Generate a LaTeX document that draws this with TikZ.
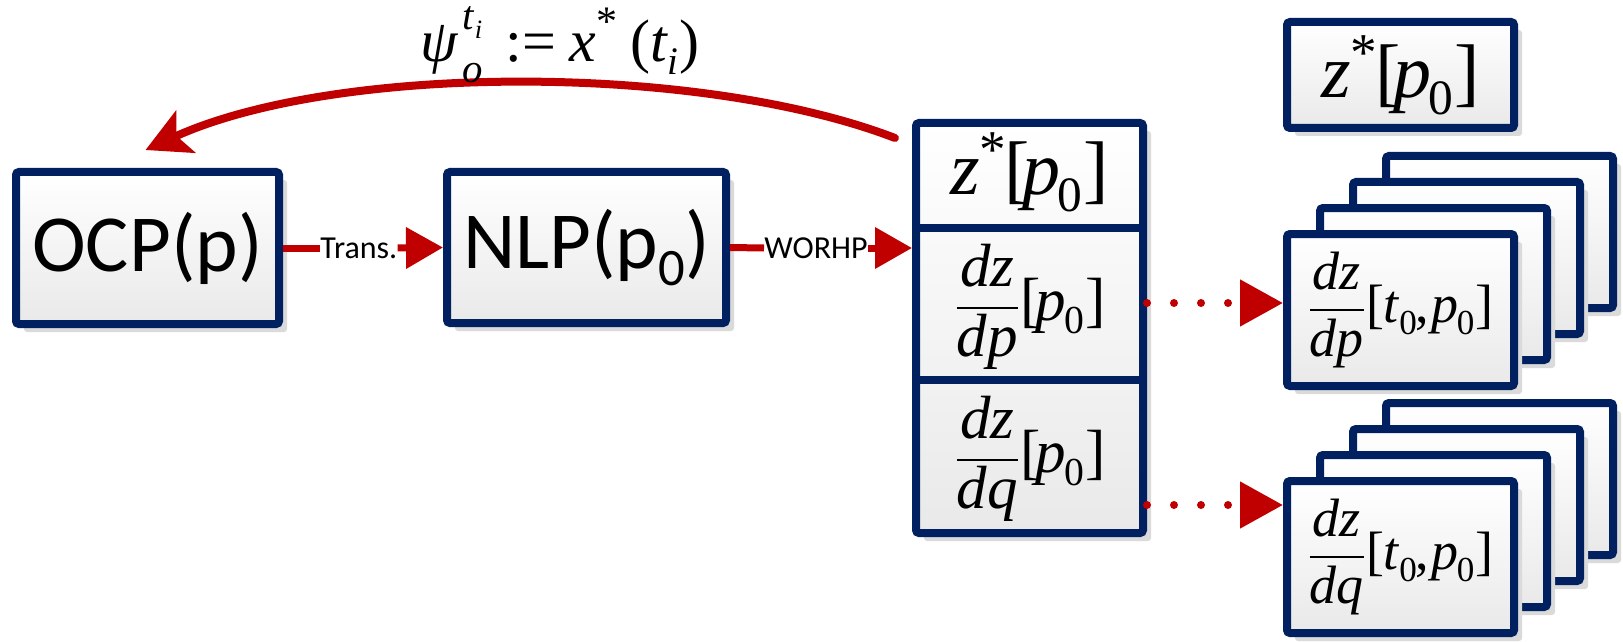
\documentclass[tikz,border=0pt]{standalone}
\usepackage{fontspec}
\usepackage{amsmath}
\usepackage{graphicx}
\setmainfont{Liberation Serif}
\newfontfamily\calib{Carlito}
\usetikzlibrary{arrows.meta,shadows,calc}
\definecolor{navy}{HTML}{002060}
\definecolor{dred}{HTML}{C00000}
\definecolor{boxbot}{HTML}{E9E9E9}
\definecolor{shadowgray}{HTML}{DADADA}
\newcommand\lsub[1]{\raisebox{-0.22em}{\scalebox{0.65}{#1}}}
\newcommand\zsp{\textit{z}\raisebox{0.36em}{\scalebox{0.7}{*}}\kern-0.02em[\kern-0.1em\textit{p}\kern-0.04em\lsub{0}\kern0.02em]}
\newcommand\pz{[\kern-0.08em\textit{p}\kern-0.03em\lsub{0}\kern0.02em]}
\newcommand\tpz{[\kern-0.02em\textit{t}\lsub{0}\kern-0.02em,\kern0.04em\textit{p}\kern-0.03em\lsub{0}\kern0.02em]}
\newcommand\dfr[1]{$\dfrac{\text{\itshape dz}}{\text{\itshape d#1}}$}
\newcommand\psilabel{\textit{ψ}\kern0.06em\rlap{\raisebox{0.52em}{\scalebox{0.68}{\textit{t}\lsub{\textit{i}}}}}\raisebox{-0.36em}{\scalebox{0.68}{\textit{o}}}\kern0.38em:=\kern0.22em\textit{x}\raisebox{0.42em}{\scalebox{0.7}{*}}\kern0.22em(\textit{t}\kern-0.02em\lsub{\textit{i}}\kern0.02em)}
\begin{document}
\begin{tikzpicture}[x=0.5pt,y=-0.5pt,
  box/.style={draw=navy, line width=4pt, rounded corners=1.5pt, top color=white, bottom color=boxbot,
    drop shadow={shadow xshift=4pt, shadow yshift=-4pt, fill=shadowgray, opacity=1}, inner sep=0pt},
  bigbox/.style={box, minimum width=113.5pt, minimum height=76pt},
  conn/.style={draw=dred, line width=3.5pt},
  tip/.style={-{Triangle[length=18.5pt,width=20pt]}},
  dotconn/.style={draw=dred, line width=4pt, line cap=round, dash pattern=on 0pt off 13.5pt,
    -{Triangle[length=21.5pt,width=22.5pt]}},
  curve/.style={draw=dred, line width=4pt, line cap=round, -{Stealth[length=22pt,width=23pt,inset=5pt]}},
  lbl/.style={inner sep=0pt, font=\calib\fontsize{16}{18}\selectfont},
  mlbl/.style={inner sep=0pt}
]
\useasboundingbox (0,0) rectangle (1623,642);

% left boxes
\node[box, minimum width=131.5pt, minimum height=76pt] (ocp) at (147.5,248)
  {\calib\fontsize{40.5}{42}\selectfont OCP(p)};
\node[box, minimum width=139.5pt, minimum height=75.5pt] (nlp) at (586.5,247.5)
  {\calib\fontsize{40.5}{42}\selectfont NLP(p\lsub{0})};

% middle stack
\node[box, minimum width=113.5pt, minimum height=205pt] (stk) at (1029.5,328) {};
\coordinate (dv1) at (0,228);
\coordinate (dv2) at (0,380);
\draw[navy, line width=4pt] (stk.west |- dv1) -- (stk.east |- dv1);
\draw[navy, line width=4pt] (stk.west |- dv2) -- (stk.east |- dv2);
\node[mlbl] (zs1) at (1029.5,172) {\fontsize{38}{40}\selectfont\zsp};
\node[mlbl] (dp1) at (1030,307) {\fontsize{30.5}{32}\selectfont\dfr{p}\pz};
\node[mlbl] (dq1) at (1030,459) {\fontsize{30.5}{32}\selectfont\dfr{q}\pz};

% right top
\node[box, minimum width=113.5pt, minimum height=53pt] (zs2) at (1400.5,75) {\fontsize{38}{40}\selectfont\zsp};

% right stacks
\foreach \i in {3,2,1} {
  \node[bigbox] (dpb\i) at ({1400.5+33*\i},{310-26*\i}) {};
}
\node[bigbox] (dpf) at (1400.5,310) {\fontsize{27}{29}\selectfont\dfr{p}\tpz};
\foreach \i in {3,2,1} {
  \node[bigbox] (dqb\i) at ({1400.5+33*\i},{557-26*\i}) {};
}
\node[bigbox] (dqf) at (1400.5,557) {\fontsize{27}{29}\selectfont\dfr{q}\tpz};

% connectors
\node[lbl, anchor=west] (tl) at (320,248) {Trans.};
\node[lbl, anchor=west] (wl) at (764,248) {WORHP};
\draw[conn] (ocp.east) -- (tl.west);
\draw[conn, tip] (tl.east) -- (nlp.west);
\draw[conn] (nlp.east) -- (wl.west);
\draw[conn, tip] (wl.east) -- (wl.east -| stk.west);

\coordinate (s1) at (1147,303);
\coordinate (s2) at (1147,505);
\draw[dotconn] (s1) -- (s1 -| dpf.west);
\draw[dotconn] (s2) -- (s2 -| dqf.west);

\coordinate (cs) at ($(stk.north west)+(-17,19)$);
\coordinate (ce) at ($(ocp.north)+(-2,-18)$);
\draw[curve] (cs) .. controls (700,63) and (337,63) .. (ce);
\node[mlbl] (psi) at (560,45) {\fontsize{30}{32}\selectfont\psilabel};
\end{tikzpicture}
\end{document}
